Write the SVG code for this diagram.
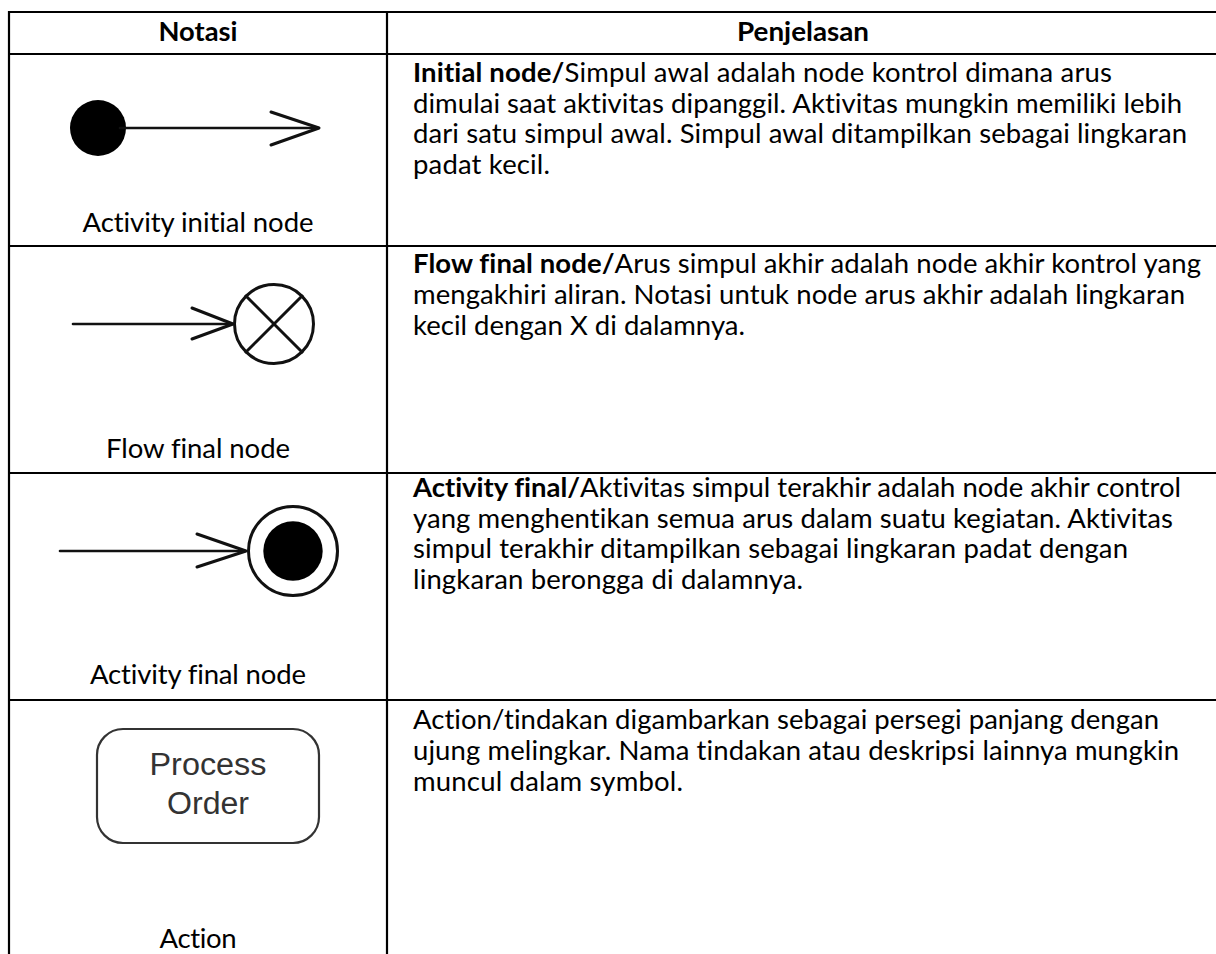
<svg xmlns="http://www.w3.org/2000/svg" width="1216" height="954" viewBox="0 0 1216 954">
  <style>
    .grid { stroke: #000; stroke-width: 2.2; fill: none; }
    .txt { font-family: Lato, "Open Sans", "Liberation Sans", sans-serif; font-size: 27.5px; fill: #000; font-variant-ligatures: none; }
    .b { font-weight: bold; }
    .mid { text-anchor: middle; }
    .sym { stroke: #111; stroke-width: 3; fill: none; stroke-linecap: round; stroke-linejoin: round; }
    .dot { fill: #000; }
    .act { font-family: "Liberation Sans", Arial, sans-serif; font-size: 31px; fill: #333; text-anchor: middle; }
  </style>

  <rect width="1216" height="954" fill="#fff"/>

  <!-- table rules -->
  <g id="grid" class="grid">
    <line x1="9" y1="12" x2="1216" y2="12"/>
    <line x1="9" y1="54" x2="1216" y2="54"/>
    <line x1="9" y1="246" x2="1216" y2="246"/>
    <line x1="9" y1="473" x2="1216" y2="473"/>
    <line x1="9" y1="700" x2="1216" y2="700"/>
    <line x1="9" y1="11" x2="9" y2="954"/>
    <line x1="387" y1="11" x2="387" y2="954"/>
  </g>

  <!-- header -->
  <g id="header">
    <text class="txt b mid" x="198" y="41" textLength="79" lengthAdjust="spacingAndGlyphs">Notasi</text>
    <text class="txt b mid" x="803" y="41" textLength="132" lengthAdjust="spacingAndGlyphs">Penjelasan</text>
  </g>

  <!-- row 1: initial node -->
  <g id="initial-node">
    <circle class="dot" cx="98" cy="128" r="28"/>
    <g class="sym">
      <line x1="120" y1="128" x2="318" y2="128" stroke-width="2.6"/>
      <polyline points="271,112 319,128 271,145"/>
    </g>
    <text class="txt mid" x="198" y="232" textLength="231" lengthAdjust="spacing">Activity initial node</text>
    <text class="txt" x="413" y="82" textLength="699" lengthAdjust="spacing"><tspan class="b">Initial node/</tspan>Simpul awal adalah node kontrol dimana arus</text>
    <text class="txt" x="413" y="112.5" textLength="769" lengthAdjust="spacing">dimulai saat aktivitas dipanggil. Aktivitas mungkin memiliki lebih</text>
    <text class="txt" x="413" y="143" textLength="774" lengthAdjust="spacing">dari satu simpul awal. Simpul awal ditampilkan sebagai lingkaran</text>
    <text class="txt" x="413" y="173.5" textLength="137" lengthAdjust="spacing">padat kecil.</text>
  </g>

  <!-- row 2: flow final node -->
  <g id="flow-final-node">
    <g class="sym">
      <line x1="73" y1="324" x2="232" y2="324" stroke-width="2.6"/>
      <polyline points="192,308 233,324 192,339"/>
      <circle cx="274" cy="324" r="39.5"/>
      <line x1="246" y1="296" x2="302" y2="352"/>
      <line x1="302" y1="296" x2="246" y2="352"/>
    </g>
    <text class="txt mid" x="198" y="458" textLength="184" lengthAdjust="spacing">Flow final node</text>
    <text class="txt" x="413" y="273" textLength="788" lengthAdjust="spacing"><tspan class="b">Flow final node/</tspan>Arus simpul akhir adalah node akhir kontrol yang</text>
    <text class="txt" x="413" y="304" textLength="772" lengthAdjust="spacing">mengakhiri aliran. Notasi untuk node arus akhir adalah lingkaran</text>
    <text class="txt" x="413" y="334.5" textLength="332" lengthAdjust="spacing">kecil dengan X di dalamnya.</text>
  </g>

  <!-- row 3: activity final node -->
  <g id="activity-final-node">
    <g class="sym">
      <line x1="60" y1="551" x2="245" y2="551" stroke-width="2.6"/>
      <polyline points="197,534 246,551 197,567"/>
      <circle cx="293" cy="551" r="44.5"/>
    </g>
    <circle class="dot" cx="293" cy="551" r="29.7"/>
    <text class="txt mid" x="198" y="684" textLength="216" lengthAdjust="spacing">Activity final node</text>
    <text class="txt" x="413" y="497" textLength="768" lengthAdjust="spacing"><tspan class="b">Activity final/</tspan>Aktivitas simpul terakhir adalah node akhir control</text>
    <text class="txt" x="413" y="527.5" textLength="760" lengthAdjust="spacing">yang menghentikan semua arus dalam suatu kegiatan. Aktivitas</text>
    <text class="txt" x="413" y="558" textLength="715" lengthAdjust="spacing">simpul terakhir ditampilkan sebagai lingkaran padat dengan</text>
    <text class="txt" x="413" y="588.5" textLength="390" lengthAdjust="spacing">lingkaran berongga di dalamnya.</text>
  </g>

  <!-- row 4: action -->
  <g id="action">
    <rect x="97" y="729" width="222" height="114" rx="26" ry="26" fill="none" stroke="#333" stroke-width="2.2"/>
    <text class="act" x="208" y="775" textLength="117" lengthAdjust="spacingAndGlyphs">Process</text>
    <text class="act" x="208" y="814" textLength="82" lengthAdjust="spacingAndGlyphs">Order</text>
    <text class="txt mid" x="198" y="948" textLength="77" lengthAdjust="spacing">Action</text>
    <text class="txt" x="413" y="729" textLength="746" lengthAdjust="spacing">Action/tindakan digambarkan sebagai persegi panjang dengan</text>
    <text class="txt" x="413" y="760" textLength="766" lengthAdjust="spacing">ujung melingkar. Nama tindakan atau deskripsi lainnya mungkin</text>
    <text class="txt" x="413" y="790.5" textLength="270" lengthAdjust="spacing">muncul dalam symbol.</text>
  </g>
</svg>
